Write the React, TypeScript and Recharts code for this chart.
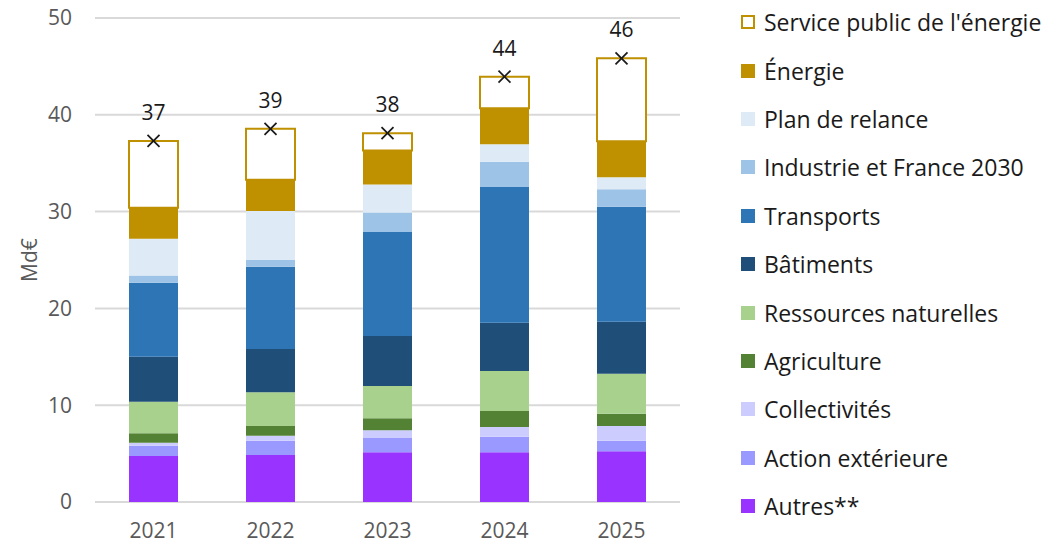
import { Bar, CartesianGrid, ComposedChart, LabelList, Legend, Line, XAxis, YAxis } from "recharts";

const years = ["2021", "2022", "2023", "2024", "2025"];

const autres = [4.75, 4.86, 5.13, 5.13, 5.24];
const actionExterieure = [1.05, 1.47, 1.47, 1.62, 1.09];
const collectivites = [0.33, 0.52, 0.8, 1.0, 1.52];
const agriculture = [0.97, 1.0, 1.24, 1.65, 1.27];
const ressources = [3.26, 3.48, 3.34, 4.13, 4.13];
const batiments = [4.64, 4.47, 5.17, 4.99, 5.38];
const transports = [7.65, 8.5, 10.75, 14.02, 11.87];
const industrie = [0.75, 0.7, 2.0, 2.61, 1.8];
const planRelance = [3.8, 5.06, 2.9, 1.8, 1.24];
const energie = [3.2, 3.24, 3.5, 3.72, 3.72];
const servicePublic = [6.9, 5.25, 1.8, 3.27, 8.57];

const yTicks = [0, 10, 20, 30, 40, 50];

const GOLD = "#BF9000";

// bottom to top
const series = [
  { key: "autres", name: "Autres**", values: autres, color: "#9933FF" },
  { key: "action", name: "Action extérieure", values: actionExterieure, color: "#9999FF" },
  { key: "collectivites", name: "Collectivités", values: collectivites, color: "#CCCCFF" },
  { key: "agriculture", name: "Agriculture", values: agriculture, color: "#548235" },
  { key: "ressources", name: "Ressources naturelles", values: ressources, color: "#A9D18E" },
  { key: "batiments", name: "Bâtiments", values: batiments, color: "#1F4E79" },
  { key: "transports", name: "Transports", values: transports, color: "#2E75B6" },
  { key: "industrie", name: "Industrie et France 2030", values: industrie, color: "#9DC3E6" },
  { key: "plan", name: "Plan de relance", values: planRelance, color: "#DEEBF7" },
  { key: "energie", name: "Énergie", values: energie, color: GOLD },
  { key: "service", name: "Service public de l'énergie", values: servicePublic, color: "#FFFFFF" },
];

const data = years.map((year, i) => {
  const row: Record<string, number | string> = { year };
  let total = 0;
  series.forEach((s) => {
    row[s.key] = s.values[i];
    total += s.values[i];
  });
  row.total = total;
  return row;
});

const FONT = "'Open Sans', 'DejaVu Sans', sans-serif";

const CrossDot = (props: any) => {
  const { cx, cy } = props;
  if (cx == null || cy == null) return null;
  const r = 6;
  return (
    <g>
      <line x1={cx - r} y1={cy - r} x2={cx + r} y2={cy + r} stroke="#1a1a1a" strokeWidth={1.7} />
      <line x1={cx - r} y1={cy + r} x2={cx + r} y2={cy - r} stroke="#1a1a1a" strokeWidth={1.7} />
    </g>
  );
};

const LegendBox = () => (
  <div style={{ fontFamily: FONT }}>
    {[...series].reverse().map((s) => (
      <div
        key={s.key}
        style={{ display: "flex", alignItems: "center", height: 48.4, fontSize: 23, color: "#1a1a1a", whiteSpace: "nowrap" }}
      >
        <span
          style={{
            display: "inline-block",
            width: s.key === "service" ? 10 : 14,
            height: s.key === "service" ? 10 : 14,
            background: s.color,
            border: s.key === "service" ? `2px solid ${GOLD}` : "none",
            marginRight: 9,
          }}
        />
        {s.name}
      </div>
    ))}
  </div>
);

export default function App() {
  return (
    <div style={{ position: "absolute", left: 0, top: 0, width: 1054, height: 546, background: "#fff" }}>
      <ComposedChart
        width={1054}
        height={546}
        data={data}
        margin={{ top: 18, right: 374, bottom: 0, left: 0 }}
        barCategoryGap={0}
      >
        <CartesianGrid vertical={false} stroke="#d9d9d9" strokeWidth={2} />
        <XAxis
          dataKey="year"
          axisLine={false}
          tickLine={false}
          tickSize={0}
          tickMargin={21}
          height={44}
          tick={{ fill: "#595959", fontSize: 21, fontFamily: FONT }}
        />
        <YAxis
          domain={[0, 50]}
          ticks={yTicks}
          axisLine={false}
          tickLine={false}
          tickSize={0}
          tickMargin={23}
          width={95}
          tick={{ fill: "#595959", fontSize: 21, fontFamily: FONT }}
          label={{
            value: "Md€",
            angle: -90,
            position: "insideLeft",
            offset: 24,
            dx: 6,
            textAnchor: "middle",
            fill: "#595959",
            fontSize: 21,
            fontFamily: FONT,
          }}
        />
        <Legend
          layout="vertical"
          align="center"
          verticalAlign="middle"
          content={<LegendBox />}
          wrapperStyle={{ left: 741, top: -2, width: 313 }}
        />
        {series.map((s) => (
          <Bar
            key={s.key}
            dataKey={s.key}
            name={s.name}
            stackId="a"
            fill={s.color}
            stroke={s.key === "service" ? GOLD : undefined}
            strokeWidth={s.key === "service" ? 2 : 0}
            barSize={49}
            isAnimationActive={false}
          />
        ))}
        <Line
          dataKey="total"
          stroke="none"
          dot={<CrossDot />}
          activeDot={false}
          legendType="none"
          isAnimationActive={false}
        >
          <LabelList
            dataKey="total"
            position="top"
            offset={21}
            formatter={(v: any) => Math.round(Number(v))}
            style={{ fill: "#1a1a1a", fontSize: 21, fontFamily: FONT }}
          />
        </Line>
      </ComposedChart>
    </div>
  );
}
